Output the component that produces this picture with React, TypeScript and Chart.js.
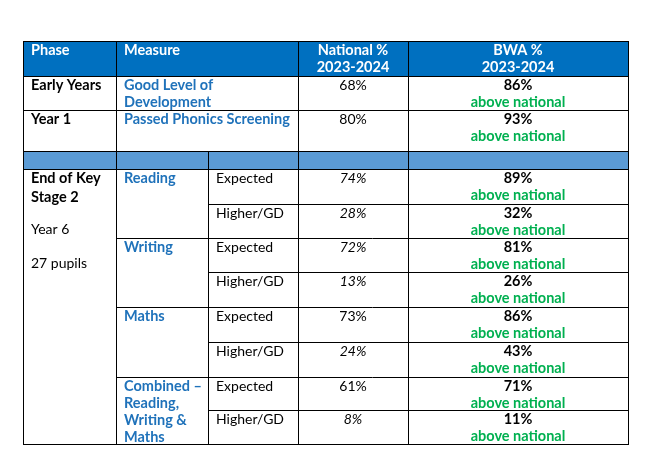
import { useEffect, useRef } from "react";
import { Chart, registerables } from "chart.js";

Chart.register(...registerables);

// ---------- data ----------
const headerLabels = ["Phase", "Measure", "National %\n2023-2024", "BWA %\n2023-2024"];
const simplePhases = ["Early Years", "Year 1"];
const simpleMeasures = ["Good Level of\nDevelopment", "Passed Phonics Screening"];
const simpleNational = [68, 80];
const simpleBwa = [86, 93];
const ks2PhaseTitle = ["End of Key", "Stage 2"];
const ks2PhaseNotes = ["Year 6", "27 pupils"];
const ks2Subjects = ["Reading", "Writing", "Maths", "Combined –\nReading,\nWriting &\nMaths"];
const ks2Levels = ["Expected", "Higher/GD"];
const ks2National = [74, 28, 72, 13, 73, 24, 61, 8];
const ks2NationalItalic = [true, true, true, true, false, true, false, true];
const ks2Bwa = [89, 32, 81, 26, 86, 43, 71, 11];
const comparisonLabel = "above national";

// ---------- layout (pixel grid on a 652 x 463 value space) ----------
const colX = [23, 116, 208, 298, 408, 628];
const rowY = [41, 76, 110, 151, 169, 204, 238, 272, 307, 342, 377, 410, 444];

const FONT = "Lato, 'Open Sans', sans-serif";
const SIZE = 14;
const BOLD_SIZE = 14.5;
const LINE = 17;
const BASE = 14;
const PAD = 8;
const HEADER_BLUE = "#0070C0";
const BAND_BLUE = "#5B9BD5";
const TEXT_BLUE = "#1F72BA";
const GREEN = "#00B050";

const tablePlugin = {
  id: "tablePlugin",
  afterDraw(chart: any) {
    const ctx: CanvasRenderingContext2D = chart.ctx;
    const xs = chart.scales.x;
    const ys = chart.scales.y;
    const X = (v: number) => Math.round(xs.getPixelForValue(v));
    const Y = (v: number) => Math.round(ys.getPixelForValue(v));
    const L = X(colX[0]);
    const R = X(colX[5]);

    ctx.save();
    ctx.fillStyle = "#ffffff";
    ctx.fillRect(0, 0, chart.width, chart.height);
    ctx.fillStyle = HEADER_BLUE;
    ctx.fillRect(L, Y(rowY[0]), R - L, Y(rowY[1]) - Y(rowY[0]));
    ctx.fillStyle = BAND_BLUE;
    ctx.fillRect(L, Y(rowY[3]), R - L, Y(rowY[4]) - Y(rowY[3]));

    ctx.strokeStyle = "#000000";
    ctx.lineWidth = 1;
    const h = (y: number, x1: number, x2: number) => {
      ctx.beginPath();
      ctx.moveTo(X(x1), Y(y) + 0.5);
      ctx.lineTo(X(x2) + 1, Y(y) + 0.5);
      ctx.stroke();
    };
    const v = (x: number, y1: number, y2: number) => {
      ctx.beginPath();
      ctx.moveTo(X(x) + 0.5, Y(y1));
      ctx.lineTo(X(x) + 0.5, Y(y2) + 1);
      ctx.stroke();
    };
    [0, 1, 2, 3, 4, 12].forEach((i) => h(rowY[i], colX[0], colX[5]));
    [5, 7, 9, 11].forEach((i) => h(rowY[i], colX[2], colX[5]));
    [6, 8, 10].forEach((i) => h(rowY[i], colX[1], colX[5]));
    v(colX[0], rowY[0], rowY[12]);
    v(colX[5], rowY[0], rowY[12]);
    v(colX[1], rowY[0], rowY[12]);
    v(colX[3], rowY[0], rowY[12]);
    v(colX[4], rowY[0], rowY[12]);
    v(colX[2], rowY[3], rowY[12]);

    const text = (
      s: string,
      col: number,
      top: number,
      opts: { bold?: boolean; italic?: boolean; color?: string; center?: boolean; spanTo?: number; line?: number }
    ) => {
      const lines = s.split("\n");
      ctx.font = `${opts.italic ? "italic " : ""}${opts.bold ? "bold " : ""}${opts.bold ? BOLD_SIZE : SIZE}px ${FONT}`;
      ctx.fillStyle = opts.color || "#000000";
      ctx.textBaseline = "alphabetic";
      const x0 = X(colX[col]);
      const x1 = X(colX[opts.spanTo ?? col + 1]);
      const startLine = opts.line ?? 0;
      lines.forEach((ln, i) => {
        const y = Y(top) + BASE + (i + startLine) * LINE;
        if (opts.center) {
          ctx.textAlign = "center";
          ctx.fillText(ln, (x0 + x1) / 2, y);
        } else {
          ctx.textAlign = "left";
          ctx.fillText(ln, x0 + PAD, y);
        }
      });
    };

    // header
    text(headerLabels[0], 0, rowY[0], { bold: true, color: "#fff" });
    text(headerLabels[1], 1, rowY[0], { bold: true, color: "#fff", spanTo: 3 });
    text(headerLabels[2], 3, rowY[0], { bold: true, color: "#fff", center: true });
    text(headerLabels[3], 4, rowY[0], { bold: true, color: "#fff", center: true });

    // simple rows
    simplePhases.forEach((p, i) => {
      const top = rowY[1 + i];
      text(p, 0, top, { bold: true });
      text(simpleMeasures[i], 1, top, { bold: true, color: TEXT_BLUE, spanTo: 3 });
      text(`${simpleNational[i]}%`, 3, top, { center: true });
      text(`${simpleBwa[i]}%`, 4, top, { bold: true, center: true });
      text(comparisonLabel, 4, top, { bold: true, center: true, color: GREEN, line: 1 });
    });

    // KS2
    text(ks2PhaseTitle[0], 0, rowY[4], { bold: true });
    text(ks2PhaseTitle[1], 0, rowY[4] + 2, { bold: true, line: 1 });
    text(ks2PhaseNotes[0], 0, rowY[4], { line: 3 });
    text(ks2PhaseNotes[1], 0, rowY[4], { line: 5 });
    ks2Subjects.forEach((s, i) => {
      text(s, 1, rowY[4 + i * 2], { bold: true, color: TEXT_BLUE });
    });
    ks2National.forEach((n, i) => {
      const top = rowY[4 + i];
      text(ks2Levels[i % 2], 2, top, {});
      text(`${n}%`, 3, top, { center: true, italic: ks2NationalItalic[i] });
      text(`${ks2Bwa[i]}%`, 4, top, { bold: true, center: true });
      text(comparisonLabel, 4, top, { bold: true, center: true, color: GREEN, line: 1 });
    });
    ctx.restore();
  },
};

export default function App() {
  const ref = useRef<HTMLCanvasElement | null>(null);
  useEffect(() => {
    if (!ref.current) return;
    const chart = new Chart(ref.current, {
      type: "scatter",
      data: { datasets: [{ data: [], pointRadius: 0 }] },
      options: {
        responsive: false,
        animation: false,
        layout: { padding: 0 },
        plugins: { legend: { display: false }, tooltip: { enabled: false } },
        scales: {
          x: { type: "linear", min: 0, max: 652, display: false },
          y: { type: "linear", min: 0, max: 463, reverse: true, display: false },
        },
      },
      plugins: [tablePlugin],
    });
    return () => chart.destroy();
  }, []);
  return (
    <div style={{ position: "absolute", left: 0, top: 0, width: 652, height: 463, background: "#fff" }}>
      <canvas ref={ref} width={652} height={463} />
    </div>
  );
}
